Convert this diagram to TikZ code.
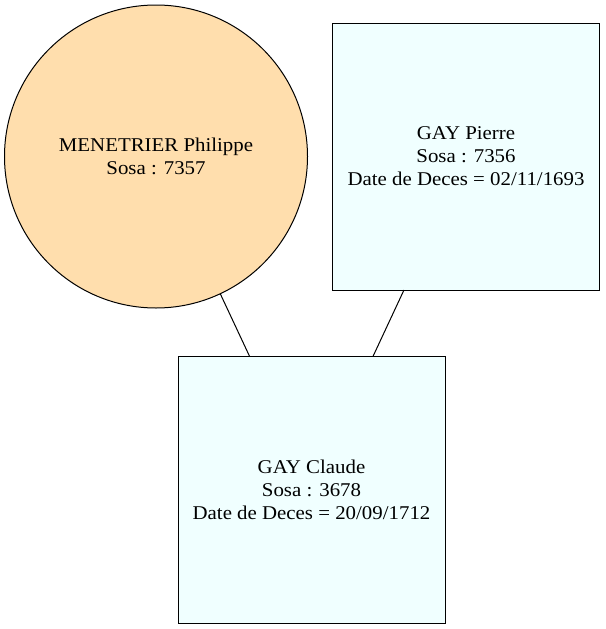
\documentclass[tikz,border=0pt]{standalone}
\usepackage{fontspec}
\setmainfont{Liberation Serif}[FakeStretch=1.07]
\begin{document}
\begin{tikzpicture}[x=1pt,y=-1pt,
  person/.style={draw=black, line width=1pt, outer sep=0pt, inner sep=0pt, align=center,
    font=\fontsize{19.5}{23}\selectfont},
  circ/.style={person, circle, fill={rgb,255:red,255;green,222;blue,173}, minimum size=303pt},
  sq/.style={person, rectangle, fill={rgb,255:red,240;green,255;blue,255}, minimum width=267pt, minimum height=267pt},
  link/.style={draw=black, line width=1pt}]
\useasboundingbox (0,0) rectangle (605,629);
\node[circ] (m) at (156,156.5) {MENETRIER Philippe\\Sosa : 7357};
\node[sq] (p) at (466,156.5) {GAY Pierre\\Sosa : 7356\\Date de Deces = 02/11/1693};
\node[sq] (c) at (311.5,489.5) {GAY Claude\\Sosa : 3678\\Date de Deces = 20/09/1712};
\draw[link] (m) -- (c);
\draw[link] (p) -- (c);
\end{tikzpicture}
\end{document}
